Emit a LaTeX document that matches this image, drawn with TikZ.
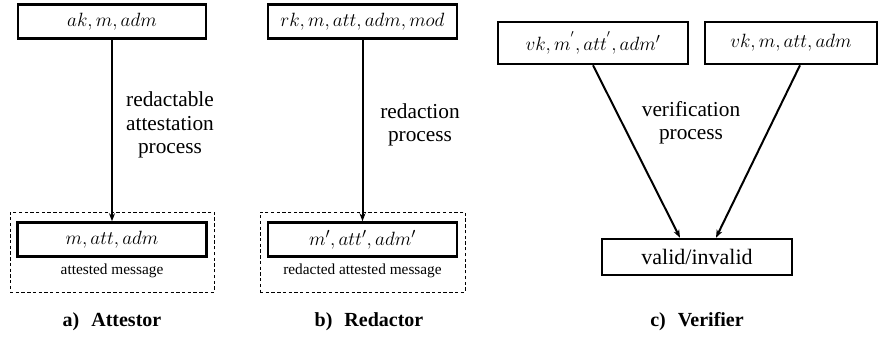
\documentclass[tikz,border=0pt]{standalone}
\usepackage{fontspec}
\setmainfont{Liberation Serif}
\usetikzlibrary{arrows.meta,calc}
\begin{document}
\begin{tikzpicture}[x=0.75pt,y=-0.75pt,
  databox/.style={draw, line width=1.9pt, inner sep=0pt,
    minimum width={#1*0.75pt}, minimum height={34*0.75pt},
    font=\fontsize{15.5}{17}\selectfont},
  groupbox/.style={draw, dashed, line width=0.7pt, dash pattern=on 2.5pt off 1.8pt,
    inner sep=0pt},
  conn/.style={line width=1.5pt, -{Stealth[length=6pt,width=4.5pt]}},
  proclabel/.style={align=center, inner sep=0pt,
    font=\fontsize{16}{17.4}\selectfont},
  smalllabel/.style={inner sep=0pt, font=\fontsize{11.5}{13}\selectfont},
  caption/.style={inner sep=0pt, font=\fontsize{15}{17}\selectfont\bfseries}]
\useasboundingbox (0,0) rectangle (886,343);

% a) Attestor
\node[groupbox, minimum width={204*0.75pt}, minimum height={80*0.75pt}] (attgrp) at (112,252) {};
\node[databox=188] (ak) at (112,21.5) {$ak, m, adm$};
\node[databox=189] (att) at (112,239.5) {$m, att, adm$};
\node[smalllabel] (attlbl) at (112,271) {attested message};
\draw[conn] (ak.south) -- (att.north);
\node[proclabel] (procA) at (170,125) {redactable\\attestation\\process};
\node[caption] (capA) at (112,322) {a)\hspace{0.6em}Attestor};

% b) Redactor
\node[groupbox, minimum width={205*0.75pt}, minimum height={80*0.75pt}] (redgrp) at (362.5,252) {};
\node[databox=189] (rk) at (362.5,21.5) {$rk, m, att, adm, mod$};
\node[databox=189] (red) at (362.5,239.5) {$m', att', adm'$};
\node[smalllabel] (redlbl) at (362.5,271) {redacted attested message};
\draw[conn] (rk.south) -- (red.north);
\node[proclabel] (procB) at (420,125) {redaction\\process};
\node[caption] (capB) at (369,322) {b)\hspace{0.6em}Redactor};

% c) Verifier
\node[databox=190, minimum height={42*0.75pt}] (vkred) at (593,43) {$vk, m^{'}, att^{'}, adm'$};
\node[databox=172, minimum height={42*0.75pt}] (vkorig) at (791,43) {$vk, m, att, adm$};
\node[databox=190, minimum height={36*0.75pt}, font=\fontsize{16.5}{18}\selectfont] (valid) at (697,257) {valid/invalid};
\draw[conn] (vkred.south) -- ($(valid.north)+(-17,0)$);
\draw[conn] ($(vkorig.south)+(9,0)$) -- ($(valid.north)+(19,0)$);
\node[proclabel] (procC) at (691,123) {verification\\process};
\node[caption] (capC) at (697,322) {c)\hspace{0.6em}Verifier};
\end{tikzpicture}
\end{document}
